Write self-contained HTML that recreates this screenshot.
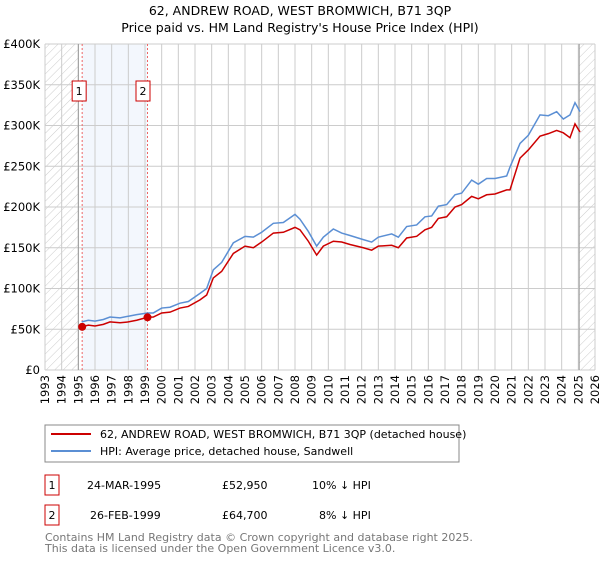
<!DOCTYPE html>
<html><head><meta charset="utf-8"><style>
body{margin:0;background:#fff;}
svg text{font-family:"DejaVu Sans","Liberation Sans",sans-serif;}
</style></head><body>
<svg id="c" width="600" height="560" xmlns="http://www.w3.org/2000/svg">
<defs><pattern id="hatch" width="6" height="6" patternUnits="userSpaceOnUse" patternTransform="rotate(45)"><line x1="0" y1="0" x2="0" y2="6" stroke="#ccc" stroke-width="1"/></pattern></defs>
<text x="300" y="15" text-anchor="middle" font-size="12.5">62, ANDREW ROAD, WEST BROMWICH, B71 3QP</text>
<text x="300" y="32" text-anchor="middle" font-size="12.5">Price paid vs. HM Land Registry's House Price Index (HPI)</text>
<g id="plot"></g>
<g>
<rect x="45" y="425" width="414" height="37" fill="#fff" stroke="#888" stroke-width="1"/>
<line x1="51" y1="434" x2="91" y2="434" stroke="#cc0000" stroke-width="2"/>
<text x="100" y="438" font-size="11">62, ANDREW ROAD, WEST BROMWICH, B71 3QP (detached house)</text>
<line x1="51" y1="451" x2="91" y2="451" stroke="#5b8fd4" stroke-width="2"/>
<text x="100" y="455" font-size="11">HPI: Average price, detached house, Sandwell</text>
</g>
<g font-size="11">
<rect x="45" y="475" width="14" height="20" fill="#fff" stroke="#cc0000"/><text x="52" y="489" text-anchor="middle">1</text>
<text x="87" y="489">24-MAR-1995</text><text x="222" y="489">£52,950</text><text x="312" y="489">10% ↓ HPI</text>
<rect x="45" y="505" width="14" height="20" fill="#fff" stroke="#cc0000"/><text x="52" y="519" text-anchor="middle">2</text>
<text x="90" y="519">26-FEB-1999</text><text x="222" y="519">£64,700</text><text x="319" y="519">8% ↓ HPI</text>
</g>
<text x="45" y="541" font-size="11" fill="#777">Contains HM Land Registry data © Crown copyright and database right 2025.</text>
<text x="45" y="552" font-size="11" fill="#777">This data is licensed under the Open Government Licence v3.0.</text>
</svg>
<script>
const years=[1995.2,1995.6,1996.0,1996.5,1996.9,1997.5,1998.0,1998.5,1999.15,1999.5,2000.0,2000.5,2001.1,2001.6,2002.3,2002.7,2003.1,2003.6,2004.3,2005.0,2005.5,2006.0,2006.7,2007.3,2008.0,2008.3,2008.8,2009.3,2009.7,2010.3,2010.8,2011.3,2012.1,2012.6,2013.0,2013.8,2014.2,2014.7,2015.3,2015.8,2016.2,2016.6,2017.1,2017.6,2018.0,2018.6,2019.0,2019.5,2020.0,2020.7,2020.9,2021.5,2022.0,2022.7,2023.2,2023.7,2024.1,2024.5,2024.8,2025.1];
const hpi=[59,61,60,62,65,64,66,68,70,70,76,77,82,84,94,100,123,132,156,164,163,169,180,181,191,185,170,152,163,173,168,165,160,157,163,167,163,176,178,188,189,201,203,215,217,233,228,235,235,238,249,278,288,313,312,317,308,313,328,317];
const price=[53,55,54,56,59,58,59,61,64.7,65,70,71,76,78,86,92,113,121,143,152,150,157,168,169,175,172,158,141,152,158,157,154,150,147,152,153,150,162,164,172,175,186,188,200,203,213,210,215,216,221,221,260,270,287,290,294,291,285,302,292];
const sales=[[1995.23,52.95],[1999.15,64.7]];
const yTicks=[0,50,100,150,200,250,300,350,400];
const xTicks=[];for(let y=1993;y<=2026;y++)xTicks.push(y);
const X=y=>45+(y-1993)*(550/33), Y=v=>370-v*326/400;
const g=document.getElementById('plot'),NS='http://www.w3.org/2000/svg';
function mk(t,a,p){const e=document.createElementNS(NS,t);for(const k in a)e.setAttribute(k,a[k]);(p||g).appendChild(e);return e;}
let e;
e=mk('rect',{x:X(1995.23),y:44,width:X(1999.15)-X(1995.23),height:326,fill:'#eef3fc',opacity:0.7});


e=mk('rect',{x:45,y:44,width:X(1995)-45,height:326,fill:'url(#hatch)'});


e=mk('rect',{x:X(2025.05),y:44,width:595-X(2025.05),height:326,fill:'url(#hatch)'});


xTicks.forEach(t=>{e=mk('line',{x1:X(t),x2:X(t),y1:44,y2:370,stroke:'#ccc','stroke-width':1});


e=mk('text',{x:0,y:0,'font-size':11.5,'text-anchor':'end',transform:`translate(${X(t)+4},375) rotate(-90)`});e.textContent=t;

});
yTicks.forEach(t=>{e=mk('line',{x1:45,x2:595,y1:Y(t),y2:Y(t),stroke:'#ccc','stroke-width':1});


e=mk('text',{x:40,y:Y(t)+4,'font-size':11.5,'text-anchor':'end'});e.textContent=t===0?'£0':'£'+t+'K';

});
e=mk('line',{x1:X(1995),x2:X(1995),y1:44,y2:370,stroke:'#999'});


e=mk('line',{x1:X(2025.05),x2:X(2025.05),y1:44,y2:370,stroke:'#999'});


sales.forEach((s,i)=>{e=mk('line',{x1:X(s[0]),x2:X(s[0]),y1:44,y2:370,stroke:'#e66','stroke-dasharray':'2,2'});

});
e=mk('polyline',{points:years.map((y,i)=>X(y)+','+Y(hpi[i])).join(' '),fill:'none',stroke:'#5b8fd4','stroke-width':1.5});


e=mk('polyline',{points:years.map((y,i)=>X(y)+','+Y(price[i])).join(' '),fill:'none',stroke:'#cc0000','stroke-width':1.5});


sales.forEach((s,i)=>{e=mk('circle',{cx:X(s[0]),cy:Y(s[1]),r:4,fill:'#cc0000'});


const bx=X(s[0])-(i===0?3:4.5);
e=mk('rect',{x:bx-7,y:81,width:14,height:20,fill:'#fff',stroke:'#cc0000'});


e=mk('text',{x:bx,y:95,'font-size':11,'text-anchor':'middle'});e.textContent=i+1;

});
</script>
</body></html>
